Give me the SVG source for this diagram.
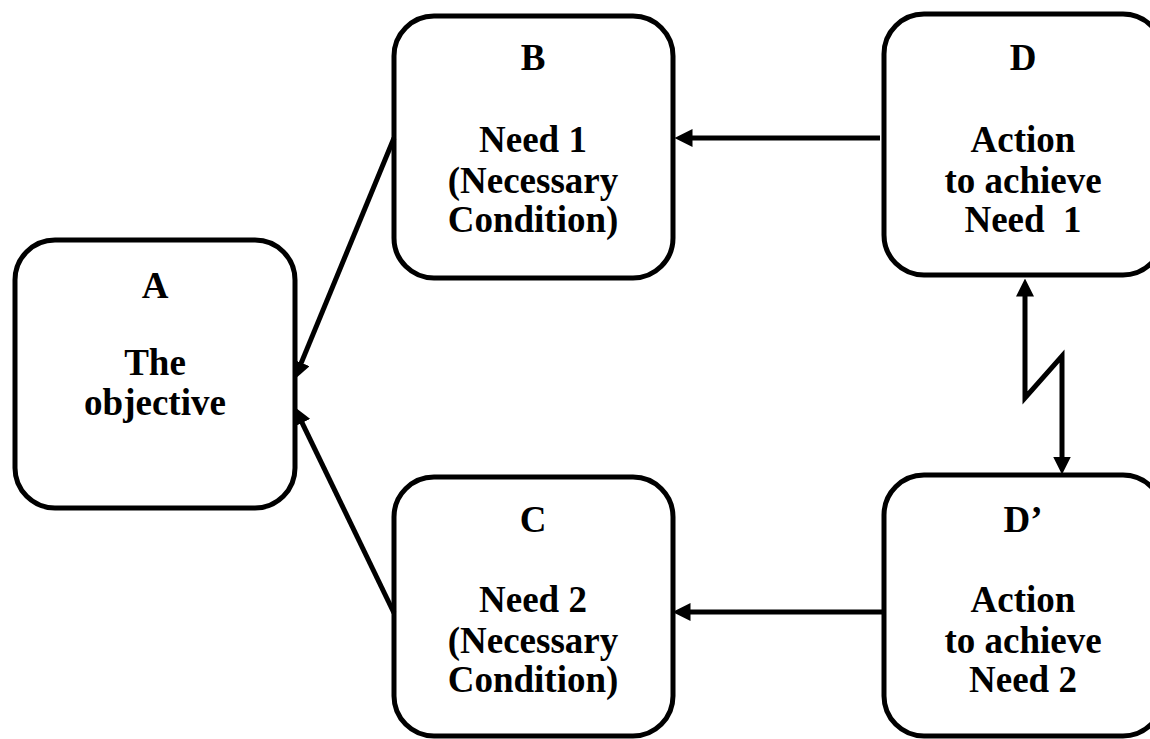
<svg xmlns="http://www.w3.org/2000/svg" width="1150" height="739" viewBox="0 0 1150 739">
<style>
.box{fill:#fff;stroke:#000;stroke-width:5}
.lbl{font-family:"Liberation Serif","Times New Roman",serif;font-weight:bold;font-size:37px;text-anchor:middle;fill:#000}
.conn{fill:none;stroke:#000;stroke-width:5;marker-end:url(#ah)}
</style>
<defs>
<marker id="ah" markerUnits="userSpaceOnUse" markerWidth="18" markerHeight="18" viewBox="0 0 16 16" refX="4" refY="8" orient="auto-start-reverse">
<path d="M0,0 L16,8 L0,16 z" fill="#000"/>
</marker>
</defs>
<rect width="1150" height="739" fill="#fff"/>
<g id="A"><rect class="box" x="15" y="240" width="280" height="268" rx="40"/>
<text class="lbl" x="155" y="298">A</text><text class="lbl" x="155" y="375">The</text><text class="lbl" x="155" y="415">objective</text></g>
<g id="B"><rect class="box" x="394" y="16" width="279" height="262" rx="40"/>
<text class="lbl" x="533" y="70">B</text><text class="lbl" x="533" y="152">Need 1</text><text class="lbl" x="533" y="193">(Necessary</text><text class="lbl" x="533" y="232">Condition)</text></g>
<g id="C"><rect class="box" x="394" y="477" width="279" height="259" rx="40"/>
<text class="lbl" x="533" y="532">C</text><text class="lbl" x="533" y="612">Need 2</text><text class="lbl" x="533" y="653">(Necessary</text><text class="lbl" x="533" y="692">Condition)</text></g>
<g id="D"><rect class="box" x="884" y="14" width="279" height="261" rx="40"/>
<text class="lbl" x="1023" y="70">D</text><text class="lbl" x="1023" y="152">Action</text><text class="lbl" x="1023" y="193">to achieve</text><text class="lbl" x="1023" y="232" xml:space="preserve">Need  1</text></g>
<g id="Dprime"><rect class="box" x="884" y="475" width="279" height="261" rx="40"/>
<text class="lbl" x="1023" y="532">D’</text><text class="lbl" x="1023" y="612">Action</text><text class="lbl" x="1023" y="653">to achieve</text><text class="lbl" x="1023" y="692">Need 2</text></g>
<g id="connectors">
<path class="conn" d="M880,138 L688,138"/>
<path class="conn" d="M882,612 L686,612"/>
<path class="conn" d="M394,138 L299.6,366.9"/>
<path class="conn" d="M394,613 L300.2,418.8"/>
<path class="conn" style="marker-start:url(#ah)" d="M1025,292 L1025,398 L1062,356 L1062,461"/>
</g>
</svg>
